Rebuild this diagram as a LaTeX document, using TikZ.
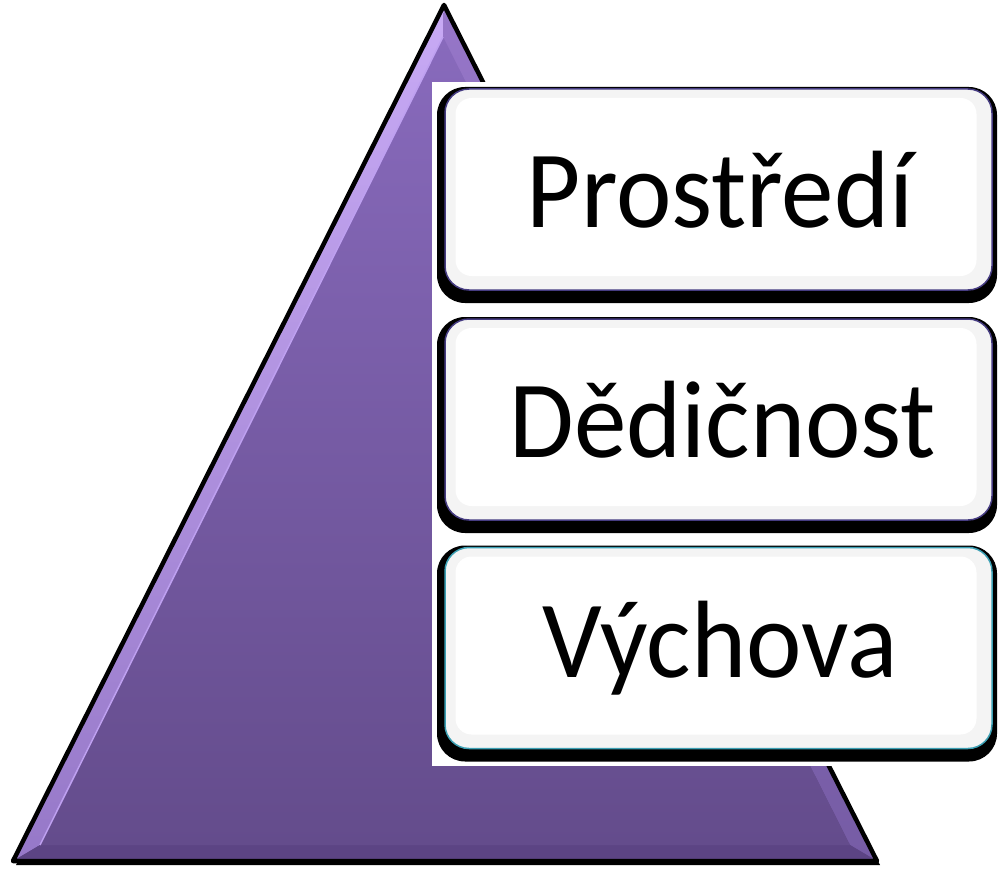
\documentclass[tikz,border=0pt]{standalone}
\usepackage{fontspec}
\setmainfont{Carlito}
\definecolor{triTop}{RGB}{140,108,190}
\definecolor{triBot}{RGB}{98,74,138}
\definecolor{bevLtop}{RGB}{200,170,245}
\definecolor{bevLbot}{RGB}{150,120,200}
\definecolor{bevRtop}{RGB}{150,118,200}
\definecolor{bevRbot}{RGB}{118,92,165}
\definecolor{bevB}{RGB}{92,68,132}
\definecolor{inTop}{RGB}{136,106,188}
\definecolor{inBot}{RGB}{100,76,140}
\definecolor{bevLine}{RGB}{190,160,240}
\definecolor{boxEdge}{RGB}{70,60,130}
\definecolor{boxEdgeC}{RGB}{60,160,180}
\begin{document}
\begin{tikzpicture}[x=1pt,y=-1pt,
  boxshadow/.style={fill=black,rounded corners=28pt,minimum width=560pt,minimum height=216pt,inner sep=0pt},
  boxmain/.style={draw=boxEdge,line width=1.5pt,fill=gray!9,rounded corners=24pt,minimum width=547pt,minimum height=201pt,inner sep=0pt},
  boxinner/.style={fill=white,rounded corners=16pt,minimum width=521pt,minimum height=178pt,inner sep=0pt},
  label/.style={font=\fontsize{110}{112}\selectfont,text=black,xscale=0.955}]
\useasboundingbox (0,0) rectangle (998,869);
\fill[white] (0,0) rectangle (998,869);
% triangle
\coordinate (A) at (444,5);
\coordinate (L) at (13,861);
\coordinate (R) at (877,861);
\fill[black] ([shift={(3,4)}]A) -- ([shift={(3,4)}]L) -- ([shift={(3,4)}]R) -- cycle;
\shade[top color=triTop,bottom color=triBot] (A) -- (L) -- (R) -- cycle;
% bevel
\coordinate (iA) at (443,37);
\coordinate (iL) at (40,845);
\coordinate (iR) at (850,845);
\shade[top color=bevLtop,bottom color=bevLbot] (A) -- (L) -- (iL) -- (iA) -- cycle;
\shade[top color=bevRtop,bottom color=bevRbot] (A) -- (iA) -- (iR) -- (R) -- cycle;
\fill[bevB] (L) -- (iL) -- (iR) -- (R) -- cycle;
\shade[top color=inTop,bottom color=inBot] (iA) -- (iL) -- (iR) -- cycle;
\draw[bevLine,line width=1.5pt] (iA) -- (iL);
\draw[black,line width=4.5pt,line join=round] (A) -- (L) -- (R) -- cycle;
% white backdrop
\fill[white] (432,82) rectangle (998,766);
% boxes
\node[boxshadow] (s1) at (717,195) {};
\node[boxmain] (b1) at (718.5,189.5) {};
\node[boxinner] (i1) at (716,187) {};
\node[label] (t1) at (720,190) {Prostředí};
\node[boxshadow] (s2) at (717,425) {};
\node[boxmain] (b2) at (718.5,419.5) {};
\node[boxinner] (i2) at (716,417) {};
\node[label] (t2) at (723,420) {Dědičnost};
\node[boxshadow] (s3) at (717,653.5) {};
\node[boxmain,draw=boxEdgeC] (b3) at (718.5,648) {};
\node[boxinner] (i3) at (716,645.5) {};
\node[label] (t3) at (720,648) {Výchova};
\end{tikzpicture}
\end{document}
